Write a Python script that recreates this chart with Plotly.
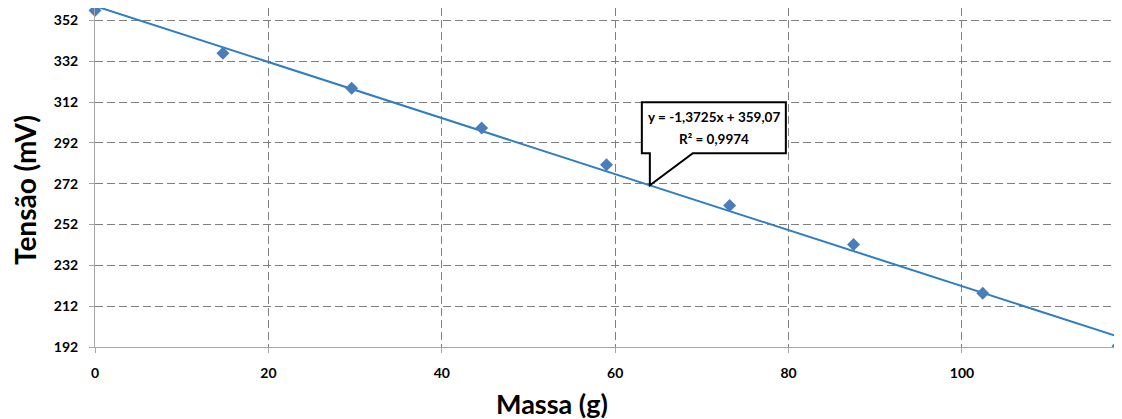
import plotly.graph_objects as go

# Data
massa = [0, 14.76, 29.6, 44.6, 59.0, 73.2, 87.5, 102.4, 118.0]
tensao = [356.9, 335.9, 318.8, 299.3, 281.3, 261.3, 242.2, 218.3, 192.5]

# Trendline as displayed in the chart
slope = -1.3725
intercept = 359.07
r2 = 0.9974
trend_x = [0, 118]
trend_y = [slope * v + intercept for v in trend_x]

x_ticks = [0, 20, 40, 60, 80, 100]
y_ticks = [192, 212, 232, 252, 272, 292, 312, 332, 352]

callout_x = 64.0
callout_y = slope * callout_x + intercept

FONT = "Lato"

def br(v):
    return str(v).replace(".", ",")

fig = go.Figure()
fig.add_trace(go.Scatter(x=trend_x, y=trend_y, mode="lines",
                         line=dict(color="#2E7EC1", width=2), showlegend=False,
                         hoverinfo="skip", cliponaxis=False))
fig.add_trace(go.Scatter(x=massa, y=tensao, mode="markers",
                         marker=dict(symbol="diamond", size=10, color="#4A7EBB"),
                         showlegend=False, cliponaxis=False))

# Callout box with pointer (pixel offsets relative to the anchor on the trendline)
fig.add_shape(type="path", xref="x", yref="y", xsizemode="pixel", ysizemode="pixel",
              xanchor=callout_x, yanchor=callout_y,
              path="M 0,0 L 0,32 L -8,32 L -8,83 L 136,83 L 136,32 L 43,32 Z",
              fillcolor="white", line=dict(color="black", width=2), layer="above")
fig.add_annotation(x=callout_x, y=callout_y, xref="x", yref="y",
                   text=f"<b>y = {br(slope)}x + {br(intercept)}</b>",
                   showarrow=False, xshift=64, yshift=68,
                   xanchor="center", yanchor="middle",
                   font=dict(family=FONT, size=13.5, color="black"))
fig.add_annotation(x=callout_x, y=callout_y, xref="x", yref="y",
                   text=f"<b>R² = {br(r2)}</b>",
                   showarrow=False, xshift=64, yshift=46,
                   xanchor="center", yanchor="middle",
                   font=dict(family=FONT, size=13.5, color="black"))

# Axis titles
fig.add_annotation(x=0.4467, y=0, xref="paper", yref="paper", yshift=-56,
                   xanchor="center", yanchor="middle",
                   text="<b>Massa (g)</b>", showarrow=False,
                   font=dict(family=FONT, size=27, color="black"))
fig.add_annotation(x=0, y=0.463, xref="paper", yref="paper", xshift=-70,
                   xanchor="center", yanchor="middle",
                   text="<b>Tensão (mV)</b>", showarrow=False, textangle=-90,
                   font=dict(family=FONT, size=28, color="black"))

axis_common = dict(showline=True, linecolor="#A6A6A6", linewidth=1,
                   gridcolor="#7F7F7F", griddash="8px,4px", gridwidth=1,
                   ticks="outside", ticklen=5, tickcolor="#A6A6A6",
                   zeroline=False, automargin=False,
                   tickfont=dict(family=FONT, size=14, color="black", weight="bold"))

fig.update_xaxes(range=[0, 118], tickvals=x_ticks, ticklabelstandoff=8, **axis_common)
fig.update_yaxes(range=[192, 358.1], tickvals=y_ticks, ticklabelstandoff=8, **axis_common)

fig.update_layout(width=1114, height=411, margin=dict(l=87, r=4, t=0, b=72),
                  plot_bgcolor="white", paper_bgcolor="white")

fig.write_html("out.html")
